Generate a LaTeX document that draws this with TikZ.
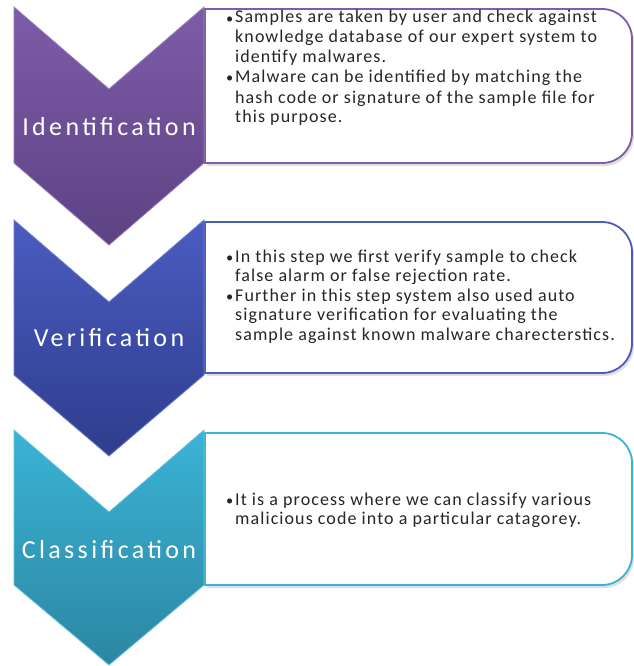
\documentclass[tikz,border=0pt]{standalone}
\usepackage{fontspec}
\setmainfont{Carlito}
\newfontfamily\boxfont[LetterSpace=6]{Carlito}
\newfontfamily\labfont[LetterSpace=13]{Carlito}
\usetikzlibrary{shadows}
\definecolor{purA}{HTML}{7E5CA8}
\definecolor{purB}{HTML}{5C4283}
\definecolor{bluA}{HTML}{4A5CC0}
\definecolor{bluB}{HTML}{2F3D8D}
\definecolor{cyaA}{HTML}{3BB3D6}
\definecolor{cyaB}{HTML}{2B87A2}
\newcommand{\bul}{\makebox[9pt][l]{\scalebox{0.8}{\textbullet}}}
\newcommand{\ind}{\hspace*{9pt}}
\tikzset{
  chev/.style={shading=axis, top color=#1A, bottom color=#1B, draw=#1A!80!white, line width=0.8pt},
  infobox/.style={draw=#1, line width=1.8pt, fill=white, drop shadow={opacity=0.25, shadow xshift=2pt, shadow yshift=-3pt}},
  chevlabel/.style={text=white, font=\labfont\fontsize{26}{30}\selectfont},
  boxtext/.style={anchor=base west, align=left, text=black!85, inner sep=0pt},
}
\begin{document}
\begin{tikzpicture}[x=1pt,y=-1pt]
\useasboundingbox (0,0) rectangle (633,666);
% boxes
\path[infobox=purA] (205,163) -- (205,9) [rounded corners=30]-- (632,9) -- (632,163) [sharp corners]-- cycle;
\path[infobox=bluA] (205,373) -- (205,222) [rounded corners=30]-- (632,222) -- (632,373) [sharp corners]-- cycle;
\path[infobox=cyaA] (205,585) -- (205,433) [rounded corners=30]-- (632,433) -- (632,585) [sharp corners]-- cycle;
% chevrons
\path[chev=pur] (14,7) -- (109,89) -- (204,7) -- (204,163) -- (109,245) -- (14,163) -- cycle;
\path[chev=blu] (14,220) -- (109,302) -- (204,220) -- (204,375) -- (109,456) -- (14,375) -- cycle;
\path[chev=cya] (14,430) -- (109,512) -- (204,430) -- (204,585) -- (109,665) -- (14,585) -- cycle;
\node[chevlabel] (l1) at (109,127) {Identification};
\node[chevlabel] (l2) at (109,338) {Verification};
\node[chevlabel] (l3) at (109,550) {Classification};
% texts (anchored at the baseline of the last line)
\node[boxtext, font=\boxfont\fontsize{18}{20}\selectfont] (t1) at (226,123) {%
\bul Samples are taken by user and check against\\
\ind knowledge database of our expert system to\\
\ind identify malwares.\\
\bul Malware can be identified by  matching  the\\
\ind hash code or signature of the sample file for\\
\ind this purpose.};
\node[boxtext, font=\boxfont\fontsize{18}{19.5}\selectfont] (t2) at (226,340) {%
\bul In this step we first verify sample to check\\
\ind false alarm or false rejection rate.\\
\bul Further in this step system also used auto\\
\ind signature verification for evaluating the\\
\ind sample against known malware charecterstics.};
\node[boxtext, font=\boxfont\fontsize{18}{19}\selectfont] (t3) at (226,524) {%
\bul It is a process where we can classify various\\
\ind malicious code into a particular  catagorey.};
\end{tikzpicture}
\end{document}
